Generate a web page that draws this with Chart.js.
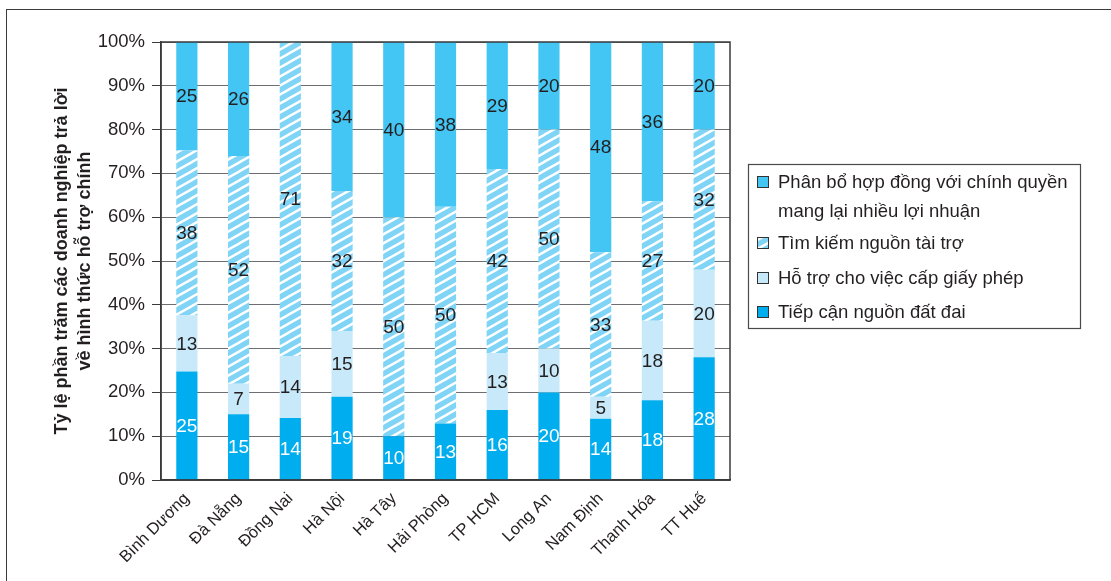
<!DOCTYPE html>
<html lang="vi">
<head>
<meta charset="utf-8">
<title>Hình thức hỗ trợ chính</title>
<script src="https://cdn.jsdelivr.net/npm/chart.js@4/dist/chart.umd.min.js"></script>
<style>
  html, body { margin: 0; padding: 0; background: #fff; }
  #wrap { position: relative; width: 1111px; height: 581px; overflow: hidden; }
  #frame { position: absolute; left: 6px; top: 9px; width: 1200px; height: 700px;
           border-left: 1.5px solid #3a3a3a; border-top: 1.5px solid #3a3a3a; box-sizing: border-box; }
  canvas { position: absolute; left: 0; top: 0; }
</style>
</head>
<body>
<div id="wrap">
  <div id="frame"></div>
  <canvas id="c" width="1111" height="581"></canvas>
</div>
<script>
// Tỉnh / thành phố
const categories = ['Bình Dương', 'Đà Nẵng', 'Đồng Nai', 'Hà Nội', 'Hà Tây', 'Hải Phòng',
                    'TP HCM', 'Long An', 'Nam Định', 'Thanh Hóa', 'TT Huế'];

// Số liệu theo từng hình thức hỗ trợ (từ dưới lên trên)
const tiepCanDatDai = [25, 15, 14, 19, 10, 13, 16, 20, 14, 18, 28];
const hoTroGiayPhep = [13, 7, 14, 15, 0, 0, 13, 10, 5, 18, 20];
const timNguonTaiTro = [38, 52, 71, 32, 50, 50, 42, 50, 33, 27, 32];
const phanBoHopDong = [25, 26, 0, 34, 40, 38, 29, 20, 48, 36, 20];

const seriesLabels = ['Tiếp cận nguồn đất đai', 'Hỗ trợ cho việc cấp giấy phép',
                      'Tìm kiếm nguồn tài trợ',
                      ['Phân bổ hợp đồng với chính quyền', 'mang lại nhiều lợi nhuận']];

const yTickValues = [0, 10, 20, 30, 40, 50, 60, 70, 80, 90, 100];
const yTitle = ['Tỷ lệ phần trăm các doanh nghiệp trả lời', 'về hình thức hỗ trợ chính'];

const FONT = '"Liberation Sans", Arial, Helvetica, sans-serif';
const TEXT = '#231f20';

// Sọc chéo cho chuỗi "Tìm kiếm nguồn tài trợ"
function makeHatch() {
  const w = 16, h = 9;
  const t = document.createElement('canvas');
  t.width = w; t.height = h;
  const g = t.getContext('2d');
  g.fillStyle = '#80d4f5';
  g.fillRect(0, 0, w, h);
  g.strokeStyle = '#ffffff';
  g.lineWidth = 2.4;
  g.beginPath();
  for (const dy of [-h, 0, h]) {
    g.moveTo(-w, h + dy + h * 1);
    g.lineTo(2 * w, dy - h * 1);
  }
  g.stroke();
  return document.getElementById('c').getContext('2d').createPattern(t, 'repeat');
}
const hatch = makeHatch();

const rawSeries = [tiepCanDatDai, hoTroGiayPhep, timNguonTaiTro, phanBoHopDong];
const colors = ['#00aeef', '#c7e9f9', hatch, '#43c6f3'];
const labelColors = ['#ffffff', TEXT, TEXT, TEXT];

// Biểu đồ cột chồng 100%: quy đổi mỗi cột theo tổng của nó
const totals = categories.map((_, i) => rawSeries.reduce((a, s) => a + s[i], 0));
const datasets = rawSeries.map((s, k) => ({
  label: seriesLabels[k],
  data: s.map((v, i) => v / totals[i] * 100),
  raw: s,
  backgroundColor: colors[k],
  labelColor: labelColors[k],
  borderWidth: 0,
  barPercentage: 0.41,
  categoryPercentage: 1.0
}));

// Nhãn giá trị giữa mỗi đoạn cột
const segmentLabels = {
  id: 'segmentLabels',
  afterDatasetsDraw(chart) {
    const ctx = chart.ctx;
    ctx.save();
    ctx.font = '19px ' + FONT;
    ctx.textAlign = 'center';
    ctx.textBaseline = 'middle';
    chart.data.datasets.forEach((ds, k) => {
      chart.getDatasetMeta(k).data.forEach((bar, i) => {
        const v = ds.raw[i];
        if (!v) return;
        const p = bar.getProps(['x', 'y', 'base'], true);
        ctx.fillStyle = ds.labelColor;
        ctx.fillText(String(v), p.x, (p.y + p.base) / 2 + 1);
      });
    });
    ctx.restore();
  }
};

// Khung vùng vẽ và chú giải
const frameAndLegend = {
  id: 'frameAndLegend',
  afterDraw(chart) {
    const ctx = chart.ctx;
    const a = chart.chartArea;
    ctx.save();
    ctx.strokeStyle = '#3a3a3a';
    ctx.lineWidth = 1.5;
    ctx.strokeRect(a.left, a.top, a.right - a.left, a.bottom - a.top);

    // chú giải
    const bx = 748.5, by = 164.5, bw = 332, bh = 164;
    ctx.lineWidth = 1.2;
    ctx.strokeStyle = '#4a4a4a';
    ctx.strokeRect(bx, by, bw, bh);
    ctx.font = '18.5px ' + FONT;
    ctx.textBaseline = 'middle';
    ctx.textAlign = 'left';
    const rows = [
      { k: 3, y: 182 },
      { k: 2, y: 243 },
      { k: 1, y: 278 },
      { k: 0, y: 312 }
    ];
    rows.forEach(r => {
      const ds = chart.data.datasets[r.k];
      ctx.fillStyle = ds.backgroundColor;
      ctx.fillRect(757, r.y - 6, 12, 12);
      ctx.strokeStyle = '#333';
      ctx.lineWidth = 1;
      ctx.strokeRect(757.5, r.y - 5.5, 11, 11);
      ctx.fillStyle = TEXT;
      const lines = Array.isArray(ds.label) ? ds.label : [ds.label];
      lines.forEach((t, j) => ctx.fillText(t, 778, r.y + 1 + j * 29));
    });
    ctx.restore();
  }
};

new Chart(document.getElementById('c'), {
  type: 'bar',
  data: { labels: categories, datasets },
  plugins: [segmentLabels, frameAndLegend],
  options: {
    responsive: false,
    animation: false,
    layout: { padding: { left: 0, top: 42, right: 381, bottom: 0 } },
    plugins: { legend: { display: false }, tooltip: { enabled: false } },
    scales: {
      x: {
        stacked: true,
        grid: { display: true, drawOnChartArea: false, drawTicks: false },
        border: { display: true, color: '#3a3a3a', width: 1.5 },
        ticks: {
          color: TEXT, font: { family: FONT, size: 16.5 },
          maxRotation: 45, minRotation: 45, padding: 9, autoSkip: false
        },
        afterFit(scale) { scale.height = 101; }
      },
      y: {
        stacked: true,
        min: 0, max: 100,
        afterBuildTicks(scale) { scale.ticks = yTickValues.map(v => ({ value: v })); },
        grid: { color: '#6d6e71', lineWidth: 1, tickLength: 9, tickColor: '#3a3a3a', drawTicks: true },
        border: { display: true, color: '#3a3a3a', width: 1.5 },
        ticks: {
          color: TEXT, font: { family: FONT, size: 18.5 }, padding: 7,
          callback: v => v + '%'
        },
        title: {
          display: true, text: yTitle, color: TEXT,
          font: { family: FONT, size: 18, weight: 'bold', lineHeight: 1.3 },
          padding: { top: 50, bottom: 0 }
        },
        afterFit(scale) { scale.width = 161; }
      }
    }
  }
});
</script>
</body>
</html>
